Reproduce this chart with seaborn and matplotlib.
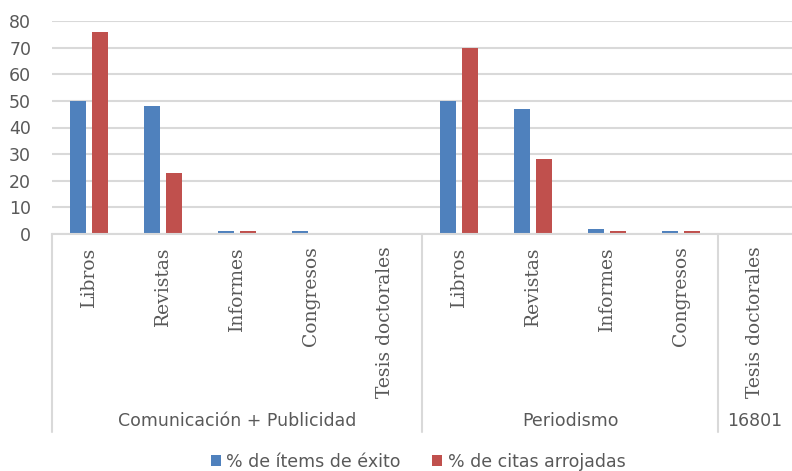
import pandas as pd
import matplotlib.pyplot as plt
import matplotlib.transforms as mtransforms
import seaborn as sns

# --- Datos ---
grupos = ["Comunicación + Publicidad"] * 5 + ["Periodismo"] * 4 + ["16801"]
tipos = ["Libros", "Revistas", "Informes", "Congresos", "Tesis doctorales",
         "Libros", "Revistas", "Informes", "Congresos", "Tesis doctorales"]
items_exito = [50, 48, 1, 1, 0, 50, 47, 2, 1, 0]
citas_arrojadas = [76, 23, 1, 0, 0, 70, 28, 1, 1, 0]
serie_1 = "% de ítems de éxito"
serie_2 = "% de citas arrojadas"

claves = [f"{g}|{t}" for g, t in zip(grupos, tipos)]
df = pd.DataFrame({
    "clave": claves * 2,
    "valor": items_exito + citas_arrojadas,
    "serie": [serie_1] * len(claves) + [serie_2] * len(claves),
})

sns.set_style("white")
plt.rcParams["font.family"] = ["DejaVu Sans"]
gris_texto = "#595959"
gris_linea = "#D9D9D9"

fig = plt.figure(figsize=(7.92, 4.71), dpi=100)
ax = fig.add_axes([52 / 792, 1 - 234 / 471, 1 - 52 / 792, 213 / 471])

sns.barplot(data=df, x="clave", y="valor", hue="serie", order=claves,
            palette=["#4F81BD", "#C0504D"], saturation=1, width=0.58, gap=0.24,
            linewidth=0, ax=ax, legend=True)

ax.set_ylim(0, 80)
ax.set_xlim(-0.5, len(claves) - 0.5)
ax.set_yticks(range(0, 81, 10))
ax.yaxis.grid(True, color=gris_linea, linewidth=1.5)
ax.set_axisbelow(True)
for lado in ["top", "right", "left"]:
    ax.spines[lado].set_visible(False)
ax.spines["bottom"].set_color(gris_linea)
ax.spines["bottom"].set_linewidth(1.5)
ax.tick_params(axis="y", length=0, labelsize=12.5, labelcolor=gris_texto, pad=15)
ax.tick_params(axis="x", length=0, pad=9)
ax.set_xticks(range(len(claves)))
ax.set_xticklabels(tipos, rotation=90, va="top", fontsize=13.5,
                   family=["DejaVu Serif"], color=gris_texto)
ax.set_xlabel("")
ax.set_ylabel("")

# eje de categorías en dos niveles
trans = mtransforms.blended_transform_factory(ax.transData, ax.transAxes)
for x in [-0.5, 4.5, 8.5]:
    ax.plot([x, x], [0, -0.93], transform=trans, color=gris_linea,
            linewidth=1.5, clip_on=False)
for nombre, centro in [("Comunicación + Publicidad", 2), ("Periodismo", 6.5), ("16801", 9)]:
    ax.text(centro, -0.878, nombre, transform=trans, ha="center", va="center",
            fontsize=12.5, color=gris_texto)

handles, labels = ax.get_legend_handles_labels()
ax.get_legend().remove()
fig.legend(handles, labels, loc="center", bbox_to_anchor=(418 / 792, 1 - 462 / 471),
           ncol=2, frameon=False, fontsize=12.5, handlelength=0.6, handleheight=0.6,
           handletextpad=0.3, columnspacing=1.8, labelcolor=gris_texto)

fig.savefig("out.png", dpi=100)
